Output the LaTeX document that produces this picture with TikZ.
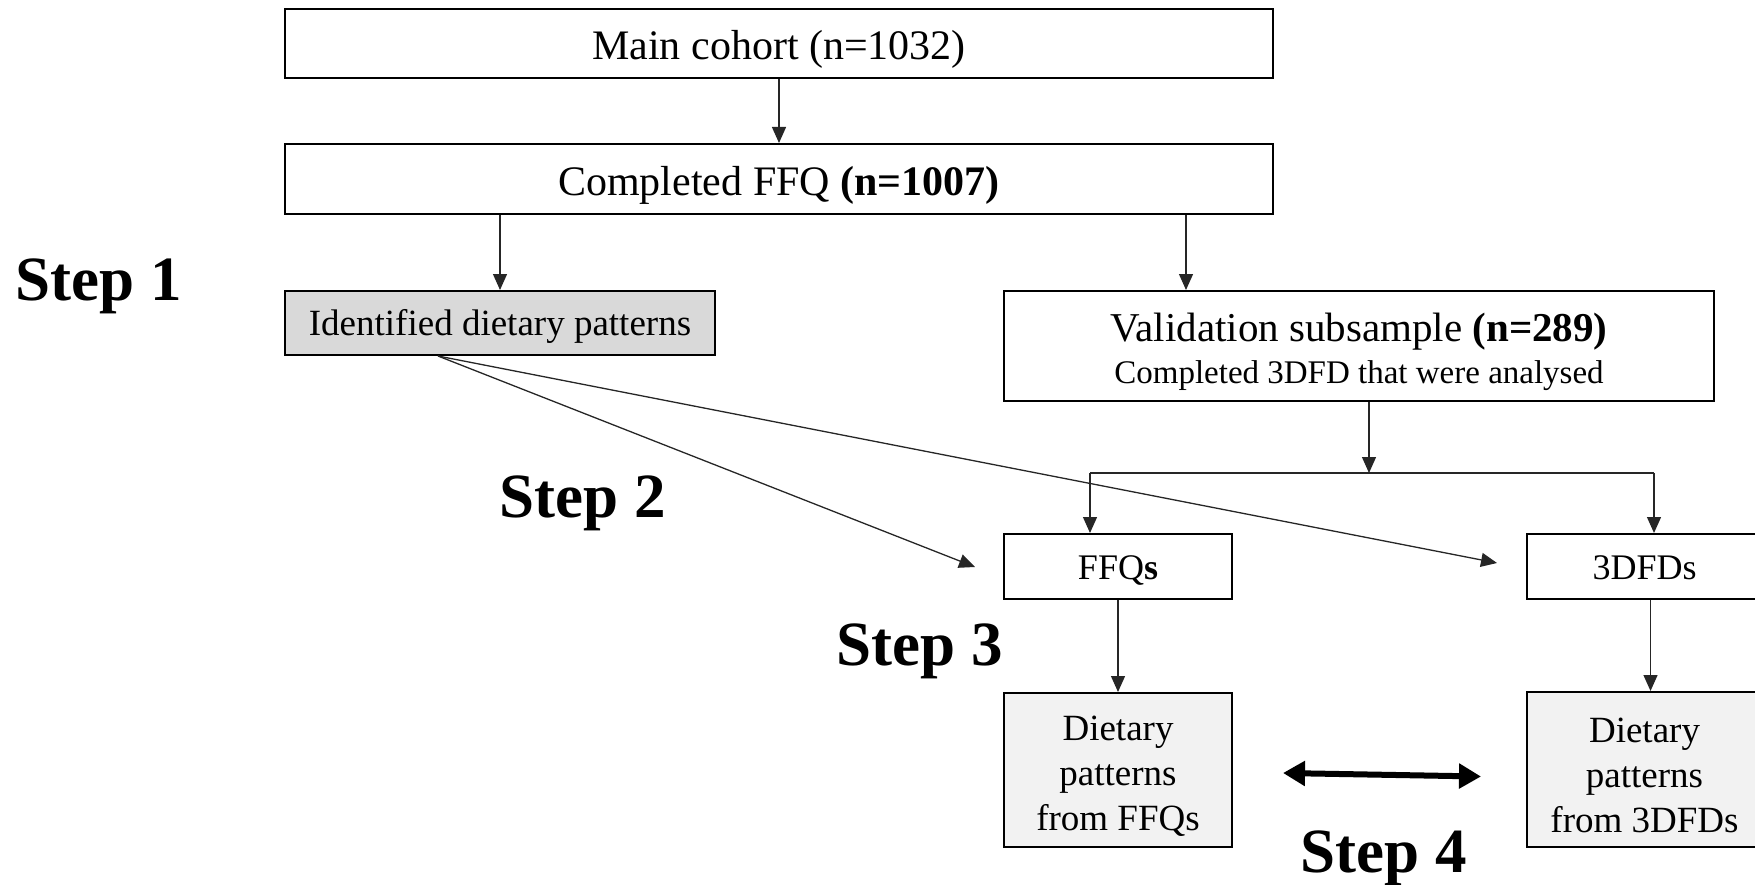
\documentclass[tikz,border=0pt]{standalone}
\usepackage{fontspec}
\setmainfont{Liberation Serif}
\usetikzlibrary{arrows.meta,calc}
\tikzset{
  boxml/.style={draw=black, line width=2pt, inner sep=0pt},
  box/.style={boxml, text depth=0pt},
  conn/.style={line width=1.3pt, draw=black!85, -{Triangle[length=16pt,width=14pt]}},
  plainline/.style={line width=1.3pt, draw=black!85},
  dbl/.style={line width=6pt, draw=black, {Triangle[length=22pt,width=24pt]}-{Triangle[length=22pt,width=24pt]}},
  steplabel/.style={font=\fontsize{63}{63}\selectfont\bfseries, anchor=base, inner sep=0pt},
}
\begin{document}
\begin{tikzpicture}[x=1pt,y=-1pt]
\useasboundingbox (0,0) rectangle (1755,885);
\clip (0,0) rectangle (1755,885);
% boxes
\node[box, minimum width=988pt, minimum height=69pt, text height=33pt,
      font=\fontsize{42}{42}\selectfont] (main) at (779,43.5) {Main cohort (n=1032)};
\node[box, minimum width=988pt, minimum height=70pt, text height=33pt,
      font=\fontsize{42}{42}\selectfont] (ffq) at (779,179) {Completed FFQ \textbf{(n=1007)}};
\node[box, fill=black!15, minimum width=430pt, minimum height=64pt, text height=25pt,
      font=\fontsize{37}{37}\selectfont] (ident) at (500,323) {Identified dietary patterns};
\node[boxml, minimum width=710pt, minimum height=110pt, align=center,
      font=\fontsize{41}{42}\selectfont] (valid) at (1359,346)
      {{\fontsize{41}{42}\selectfont\rule{0pt}{40pt}Validation subsample \textbf{(n=289)}}\\{\fontsize{33}{42}\selectfont Completed 3DFD that were analysed}};
\node[box, minimum width=228pt, minimum height=65pt, text height=25pt,
      font=\fontsize{36}{36}\selectfont] (ffqs) at (1118,566.5) {FFQ\textbf{s}};
\node[box, minimum width=235pt, minimum height=65pt, text height=25pt,
      font=\fontsize{36}{36}\selectfont] (dfds) at (1644.5,566.5) {3DFDs};
\node[boxml, fill=black!5, minimum width=228pt, minimum height=154pt, align=center,
      font=\fontsize{37}{45}\selectfont] (dpf) at (1118,770) {\rule{0pt}{36pt}Dietary\\patterns\\from FFQs};
\node[boxml, fill=black!5, minimum width=235pt, minimum height=155pt, align=center,
      font=\fontsize{37}{45}\selectfont] (dpd) at (1644.5,769.5) {\rule{0pt}{36pt}Dietary\\patterns\\from 3DFDs};
% step labels
\node[steplabel] (s1) at (99,300) {Step 1};
\node[steplabel] (s2) at (583,517) {Step 2};
\node[steplabel] (s3) at (920,665) {Step 3};
\node[steplabel] (s4) at (1384,872) {Step 4};
% connectors
\draw[conn] (main.south) -- (ffq.north);
\draw[conn] (ffq.south -| ident.north) -- (ident.north);
\draw[conn] ([xshift=183pt]valid.north west |- ffq.south) -- ([xshift=183pt]valid.north west);
\coordinate (split) at (1369,473);
\coordinate (splitL) at (1090,473);
\coordinate (splitR) at (1654,473);
\draw[conn] (valid.south -| split) -- (split);
\draw[plainline] (splitL) -- (splitR);
\draw[conn] (splitL) -- (splitL |- ffqs.north);
\draw[conn] (splitR) -- (splitR |- dfds.north);
\coordinate (t1) at (975,567);
\coordinate (t2) at (1497,563);
\draw[conn] ([xshift=-62pt]ident.south) -- (t1);
\draw[conn] ([xshift=-62pt]ident.south) -- (t2);
\draw[conn] (ffqs.south) -- (dpf.north);
\draw[conn] ([xshift=6pt]dfds.south) -- ([xshift=6pt]dfds.south |- dpd.north);
\draw[dbl] ($(dpf.east)+(50,3)$) -- ($(dpd.west)+(-45,7)$);
\end{tikzpicture}
\end{document}
